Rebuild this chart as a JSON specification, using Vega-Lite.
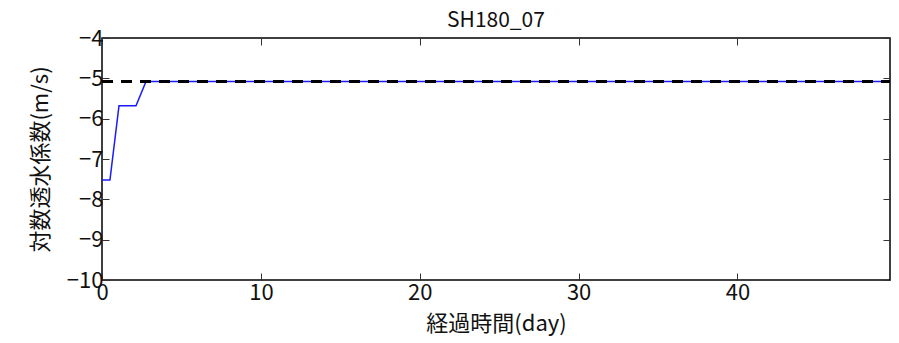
{
  "$schema": "https://vega.github.io/schema/vega-lite/v6.json",
  "autosize": "none",
  "width": 788,
  "height": 242,
  "padding": {"left": 102, "top": 38, "right": 9, "bottom": 63},
  "background": "white",
  "config": {
    "font": "Noto Sans CJK JP",
    "view": {"stroke": "black", "strokeWidth": 1.5},
    "axis": {"grid": false, "labelFlush": false, "labelFont": "Noto Sans CJK JP", "labelFontSize": 22, "labelColor": "#111", "titleFont": "Noto Sans CJK JP", "titleFontSize": 22, "titleFontWeight": "normal", "titleColor": "#111", "tickColor": "#333", "tickSize": -7, "domainColor": "black"}
  },
  "title": {"text": "SH180_07", "font": "Noto Sans CJK JP", "fontSize": 21, "fontWeight": "normal", "color": "#111", "offset": -4},
  "datasets": {
    "k": [
      {"day": 0, "logk": -7.52},
      {"day": 0.5, "logk": -7.52},
      {"day": 1.07, "logk": -5.68},
      {"day": 2.14, "logk": -5.68},
      {"day": 2.77, "logk": -5.08},
      {"day": 10, "logk": -5.08},
      {"day": 20, "logk": -5.08},
      {"day": 30, "logk": -5.08},
      {"day": 40, "logk": -5.08},
      {"day": 49.6, "logk": -5.08}
    ],
    "ref": [
      {"day": 0, "logk": -5.08},
      {"day": 49.6, "logk": -5.08}
    ]
  },
  "layer": [
    {
      "data": {"name": "k"},
      "mark": {"type": "line", "color": "#1a1aff", "strokeWidth": 1.5, "clip": true},
      "encoding": {
        "x": {"field": "day", "type": "quantitative", "scale": {"domain": [0, 49.6], "nice": false},
          "axis": {"orient": "bottom", "title": "経過時間(day)", "values": [0, 10, 20, 30, 40], "labelPadding": 9, "titlePadding": 10, "domain": false}},
        "y": {"field": "logk", "type": "quantitative", "scale": {"domain": [-10, -4], "nice": false},
          "axis": {"orient": "left", "title": "対数透水係数(m/s)", "values": [-10, -9, -8, -7, -6, -5, -4], "labelPadding": 6, "titlePadding": 14, "domain": false}}
      }
    },
    {
      "data": {"name": "ref"},
      "mark": {"type": "line", "color": "black", "strokeWidth": 3, "strokeDash": [11, 8], "clip": true},
      "encoding": {
        "x": {"field": "day", "type": "quantitative", "scale": {"domain": [0, 49.6], "nice": false},
          "axis": {"orient": "top", "labels": false, "title": null, "domain": false, "values": [0, 10, 20, 30, 40]}},
        "y": {"field": "logk", "type": "quantitative", "scale": {"domain": [-10, -4], "nice": false},
          "axis": {"orient": "right", "labels": false, "title": null, "domain": false, "values": [-10, -9, -8, -7, -6, -5, -4]}}
      }
    }
  ],
  "resolve": {"axis": {"x": "independent", "y": "independent"}}
}
